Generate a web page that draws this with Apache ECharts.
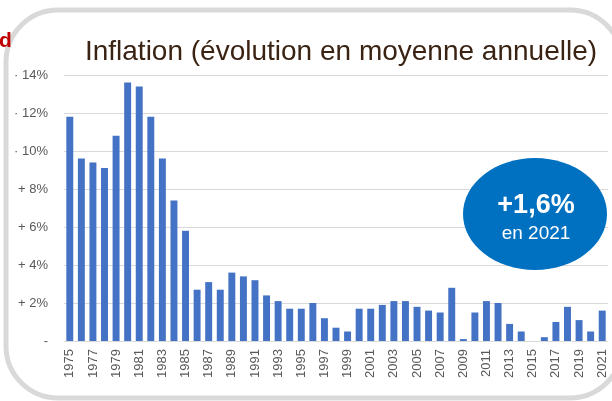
<!DOCTYPE html>
<html>
<head>
<meta charset="utf-8">
<script src="https://cdn.jsdelivr.net/npm/echarts@6/dist/echarts.min.js"></script>
<style>
html,body{margin:0;padding:0;background:#fff;}
#c{width:612px;height:401px;}
</style>
</head>
<body>
<div id="c"></div>
<script>
const years = [];
for (let y = 1975; y <= 2021; y++) years.push(String(y));
const inflation = [11.8, 9.6, 9.4, 9.1, 10.8, 13.6, 13.4, 11.8, 9.6, 7.4,
  5.8, 2.7, 3.1, 2.7, 3.6, 3.4, 3.2, 2.4, 2.1, 1.7,
  1.7, 2.0, 1.2, 0.7, 0.5, 1.7, 1.7, 1.9, 2.1, 2.1,
  1.8, 1.6, 1.5, 2.8, 0.1, 1.5, 2.1, 2.0, 0.9, 0.5,
  0.0, 0.2, 1.0, 1.8, 1.1, 0.5, 1.6];
const yTickLabels = ['-', '+ 2%', '+ 4%', '+ 6%', '+ 8%', '· 10%', '· 12%', '· 14%'];
const titleText = 'Inflation (évolution en moyenne annuelle)';
const badgeValue = '+1,6%';
const badgeYear = 'en 2021';

const chart = echarts.init(document.getElementById('c'), null, {renderer: 'canvas'});
chart.setOption({
  animation: false,
  backgroundColor: '#ffffff',
  grid: {left: 64, right: 4, top: 75, bottom: 60, containLabel: false},
  xAxis: {
    type: 'category',
    data: years,
    axisLine: {show: true, lineStyle: {color: '#d9d9d9', width: 1}},
    axisTick: {show: false},
    axisLabel: {
      interval: 1, rotate: 90, margin: 8,
      color: '#595959', fontSize: 13, fontFamily: 'Liberation Sans'
    }
  },
  yAxis: {
    type: 'value', min: 0, max: 14, interval: 2,
    axisLine: {show: false},
    axisTick: {show: false},
    splitLine: {lineStyle: {color: '#d9d9d9', width: 1}},
    axisLabel: {
      margin: 16, color: '#595959', fontSize: 13, fontFamily: 'Liberation Sans',
      formatter: v => yTickLabels[Math.round(v / 2)]
    }
  },
  series: [{
    type: 'bar',
    data: inflation,
    barWidth: '60%',
    itemStyle: {color: '#4472c4'}
  }],
  graphic: [
    {type: 'rect', z: -1, shape: {x: 6, y: 10, width: 616, height: 388, r: 52},
      style: {fill: 'none', stroke: '#d9d9d9', lineWidth: 5}},
    {type: 'text', x: 341, y: 52, style: {text: titleText, fill: '#3b2314',
      font: '28px "Liberation Sans"', textAlign: 'center', textVerticalAlign: 'middle'}},
    {type: 'text', x: -1, y: 41, style: {text: 'd', fill: '#c00000',
      font: 'bold 21px "Liberation Sans"', textAlign: 'left', textVerticalAlign: 'middle'}},
    {type: 'ellipse', z: 10, shape: {cx: 535, cy: 214, rx: 72, ry: 56},
      style: {fill: '#0070c0'}},
    {type: 'text', z: 11, x: 536, y: 206, style: {text: badgeValue, fill: '#ffffff',
      font: 'bold 27px "Liberation Sans"', textAlign: 'center', textVerticalAlign: 'middle'}},
    {type: 'text', z: 11, x: 536, y: 234, style: {text: badgeYear, fill: '#ffffff',
      font: '19px "Liberation Sans"', textAlign: 'center', textVerticalAlign: 'middle'}}
  ]
});
</script>
</body>
</html>
